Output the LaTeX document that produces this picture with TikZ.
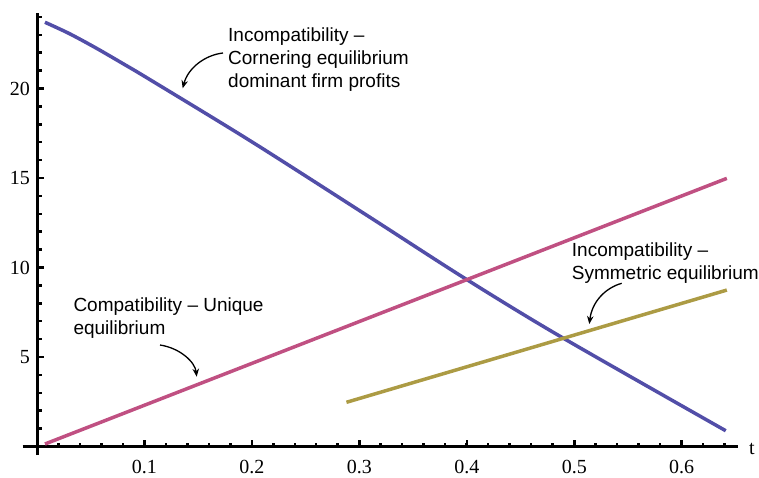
\documentclass[tikz,border=0pt]{standalone}
\usepackage{fontspec}
\setmainfont{Liberation Serif}
\newfontfamily\notefont{Liberation Sans}
\usetikzlibrary{arrows.meta}
\definecolor{cornerblue}{RGB}{82,78,168}
\definecolor{compatpink}{RGB}{192,80,130}
\definecolor{symolive}{RGB}{172,155,68}

\begin{document}
\begin{tikzpicture}[x=1pt, y=-1pt,
   axisline/.style = {line width=3pt},
   tickmark/.style = {line width=2.5pt},
    ticklab/.style = {font=\fontsize{20}{20}\selectfont, inner sep=0pt},
      curve/.style = {line width=3.5pt},
       note/.style = {font=\notefont\fontsize{19}{23}\selectfont, align=left,
                      anchor=north west, inner sep=0pt},% annotation texts
    pointer/.style = {line width=1.3pt, -{Stealth[length=8pt,width=6.5pt]}},
                        ]
\useasboundingbox (0,0) rectangle (759,477);
% data frame: t to the right, profits upwards
\begin{scope}[shift={(37,446.5)}, x=1074.5pt, y=17.9pt]
\draw[axisline] (0,-0.475) -- (0,24.22);
\draw[axisline] (-0.0133,0) -- (0.6524,0);
\foreach \t in {0.02,0.04,...,0.645}% <-- minor ticks on t
    \draw[tickmark] (\t,0) -- ++(0,4pt);
\foreach \v in {1,...,24}% <-- minor ticks on profits
    \draw[tickmark] (0,\v) -- ++(4.5pt,0);
\foreach \t/\n in {0.1/1,0.2/2,0.3/3,0.4/4,0.5/5,0.6/6}
  {
    \draw[tickmark] (\t,0) -- ++(0,7pt);
    \node[ticklab, anchor=base, yshift=-26.5pt] (xlab\n) at (\t,0) {\t};
  }
\foreach \v in {5,10,15,20}
  {
    \draw[tickmark] (0,\v) -- ++(7pt,0);
    \node[ticklab, anchor=east, xshift=-7pt] (ylab\v) at (0,\v) {\v};
  }
\node[ticklab, anchor=west, xshift=11pt, yshift=-2pt] (tlab) at (0.6524,0) {t};
% the three profit curves
\draw[curve, cornerblue] plot[smooth] coordinates {(0.0074,23.7) (0.03,23.07)
    (0.055,22.26) (0.08,21.39) (0.105,20.5) (0.2,17.02) (0.31,12.8)
    (0.398,9.4) (0.487,6.15) (0.641,0.88)};
\draw[curve, compatpink] (0.0074,0.14) -- (0.642,14.98);
\draw[curve, symolive] (0.288,2.47) -- (0.642,8.74);
\end{scope}

\node[note] (cornerNote) at (228,27.8)
    {Incompatibility –\\Cornering equilibrium\\dominant firm profits};
\node[note] (uniqueNote) at (73.3,297.8) {Compatibility – Unique\\equilibrium};
\node[note] (symNote) at (571.7,242.4) {Incompatibility –\\Symmetric equilibrium};

\coordinate (cornerFrom) at (223,53);
\coordinate (cornerTo) at (182.7,88.3);
\coordinate (uniqueFrom) at (160,345);
\coordinate (uniqueTo) at (196.7,376.7);
\coordinate (symFrom) at (621.7,283.3);
\coordinate (symTo) at (589.3,324);
\draw[pointer] (cornerFrom) .. controls (205,55) and (188,68) .. (cornerTo);
\draw[pointer] (uniqueFrom) .. controls (180,348) and (195,362) .. (uniqueTo);
\draw[pointer] (symFrom) .. controls (605,288) and (592,302) .. (symTo);
\end{tikzpicture}
\end{document}
